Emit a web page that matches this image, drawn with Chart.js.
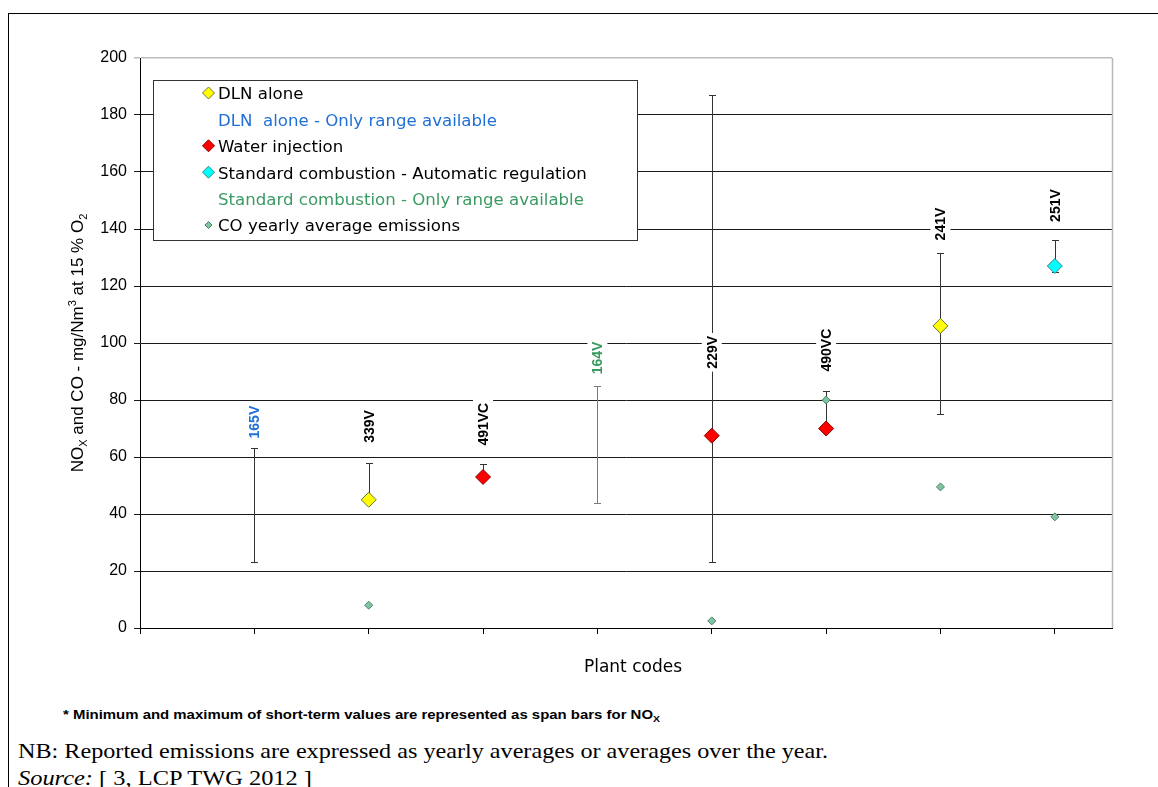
<!DOCTYPE html>
<html><head><meta charset="utf-8">
<script src="https://cdn.jsdelivr.net/npm/chart.js@4.4.1/dist/chart.umd.min.js"></script>
<style>
html,body{margin:0;padding:0;background:#fff;width:1158px;height:787px;overflow:hidden;}
#frame{position:absolute;left:8px;top:13px;width:1200px;height:800px;border-top:1px solid #000;border-left:1px solid #000;box-sizing:border-box;}
#c{position:absolute;left:0;top:0;}
.t{position:absolute;white-space:nowrap;transform-origin:0 0;color:#000;}
.sub{font-size:70%;position:relative;top:0.3em;}
#note{left:63px;top:707px;font:bold 13px "Liberation Sans Narrow","Liberation Sans",Arial,sans-serif;line-height:15px;}
#nb{left:18px;top:739px;font:21px "Liberation Serif","Times New Roman",serif;line-height:24px;}
#src{left:18px;top:766px;font:21px "Liberation Serif","Times New Roman",serif;line-height:24px;}
</style></head>
<body>
<div id="frame"></div>
<canvas id="c" width="1158" height="690"></canvas>
<div class="t" id="note">* Minimum and maximum of short-term values are represented as span bars for NO<span class="sub">X</span></div>
<div class="t" id="nb">NB: Reported emissions are expressed as yearly averages or averages over the year.</div>
<div class="t" id="src"><i>Source:</i> [ 3, LCP TWG 2012 ]</div>
<script>
// ---- data ----
const plantCodes = ['165V', '339V', '491VC', '164V', '229V', '490VC', '241V', '251V'];
const technique  = ['dlnRange', 'dln', 'water', 'stdRange', 'water', 'water', 'dln', 'stdAuto'];
const noxAverage = [null, 45, 53, null, 67.5, 70, 106, 127];
const noxMin     = [23, 45, 53, 44, 23, 70, 75, 125];
const noxMax     = [63, 58, 57.5, 85, 187, 83, 131.5, 136];
const coAverage  = [null, 8, null, null, 2.5, 80, 49.5, 39];
const labelAt    = [66.5, 65, 64, 89, 91, 90, 136, 142.5];
const yTicks     = [0, 20, 40, 60, 80, 100, 120, 140, 160, 180, 200];

const legendItems = [
  {text: 'DLN alone', marker: 'dln', color: '#000'},
  {text: 'DLN  alone - Only range available', marker: null, color: '#1f6fd6'},
  {text: 'Water injection', marker: 'water', color: '#000'},
  {text: 'Standard combustion - Automatic regulation', marker: 'stdAuto', color: '#000'},
  {text: 'Standard combustion - Only range available', marker: null, color: '#3a9a62'},
  {text: 'CO yearly average emissions', marker: 'co', color: '#000'}
];

const styles = {
  dln:     {fill: '#ffff00', stroke: '#6e6e40', r: 7.5, lr: 6},
  water:   {fill: '#ff0000', stroke: '#8a0000', r: 7.5, lr: 6},
  stdAuto: {fill: '#00ffff', stroke: '#3f8080', r: 7.5, lr: 6},
  co:      {fill: '#80c4a0', stroke: '#4a806a', r: 4, lr: 3.5}
};
const labelColor = {dlnRange: '#1f6fd6', stdRange: '#3a9a62'};
const FONT = '"Liberation Sans", Arial, sans-serif';
const FONT2 = '"DejaVu Sans", Verdana, sans-serif';

function pts(tech, arr) {
  const out = [];
  arr.forEach((v, i) => { if (v != null && (tech === null || technique[i] === tech)) out.push({x: i + 1, y: v}); });
  return out;
}
function ds(label, data, st) {
  return {label, data, pointStyle: 'rectRot', pointRadius: st.r, pointHoverRadius: st.r,
    backgroundColor: st.fill, borderColor: st.stroke, borderWidth: 1, showLine: false};
}

function diamond(ctx, x, y, r, fill, stroke) {
  ctx.beginPath();
  ctx.moveTo(x, y - r); ctx.lineTo(x + r, y); ctx.lineTo(x, y + r); ctx.lineTo(x - r, y); ctx.closePath();
  ctx.fillStyle = fill; ctx.fill();
  ctx.strokeStyle = stroke; ctx.lineWidth = 1; ctx.stroke();
}

const extras = {
  id: 'extras',
  beforeDatasetsDraw(chart) {
    const {ctx, chartArea: a, scales: {x, y}} = chart;
    ctx.save();
    // right plot border
    ctx.strokeStyle = '#b8b8b8'; ctx.lineWidth = 1.5;
    ctx.beginPath(); ctx.moveTo(Math.round(a.right) + 0.5, a.top); ctx.lineTo(Math.round(a.right) + 0.5, a.bottom); ctx.stroke();
    // span bars
    plantCodes.forEach((c, i) => {
      const px = Math.round(x.getPixelForValue(i + 1)) + 0.5;
      const y1 = Math.round(y.getPixelForValue(noxMax[i])) + 0.5;
      const y2 = Math.round(y.getPixelForValue(noxMin[i])) + 0.5;
      ctx.strokeStyle = technique[i] === 'stdRange' ? '#7a7a7a' : '#333';
      ctx.lineWidth = 1;
      ctx.beginPath();
      ctx.moveTo(px, y1); ctx.lineTo(px, y2);
      ctx.moveTo(px - 3.5, y1); ctx.lineTo(px + 3.5, y1);
      ctx.moveTo(px - 3.5, y2); ctx.lineTo(px + 3.5, y2);
      ctx.stroke();
    });
    // plant code labels
    ctx.font = 'bold 14px ' + FONT;
    plantCodes.forEach((c, i) => {
      const px = x.getPixelForValue(i + 1);
      const py = y.getPixelForValue(labelAt[i]);
      const w = ctx.measureText(c).width;
      ctx.save();
      ctx.translate(px, py);
      ctx.rotate(-Math.PI / 2);
      ctx.fillStyle = '#fff';
      ctx.fillRect(-3, -10, w + 6, 20);
      ctx.fillStyle = labelColor[technique[i]] || '#000';
      ctx.textAlign = 'left'; ctx.textBaseline = 'middle';
      ctx.fillText(c, 0, 1);
      ctx.restore();
    });
    ctx.restore();
  },
  afterDraw(chart) {
    const {ctx, chartArea: a} = chart;
    ctx.save();
    // legend box
    const lx = 153, ly = 80, lw = 484, lh = 160;
    ctx.fillStyle = '#fff'; ctx.fillRect(lx, ly, lw, lh);
    ctx.strokeStyle = '#333'; ctx.lineWidth = 1;
    ctx.strokeRect(lx + 0.5, ly + 0.5, lw, lh);
    ctx.font = '16.6px ' + FONT2; ctx.textBaseline = 'middle'; ctx.textAlign = 'left';
    legendItems.forEach((it, k) => {
      const cy = 93 + k * 26.4;
      if (it.marker) { const s = styles[it.marker]; diamond(ctx, 208.5, cy, s.lr, s.fill, s.stroke); }
      ctx.fillStyle = it.color;
      ctx.fillText(it.text, 218, cy + 2);
    });
    // x title
    ctx.font = '17px ' + FONT2;
    ctx.fillStyle = '#000'; ctx.textAlign = 'center';
    ctx.fillText('Plant codes', 633, 668);
    // y title with sub/superscripts
    const parts = [
      {t: 'NO', f: 17, dy: 0}, {t: 'X', f: 11, dy: 4},
      {t: ' and CO - mg/Nm', f: 17, dy: 0}, {t: '3', f: 11, dy: -7},
      {t: ' at 15 % O', f: 17, dy: 0}, {t: '2', f: 11, dy: 4}
    ];
    let total = 0;
    parts.forEach(p => { ctx.font = p.f + 'px ' + FONT; p.w = ctx.measureText(p.t).width; total += p.w; });
    ctx.translate(77, (a.top + a.bottom) / 2);
    ctx.rotate(-Math.PI / 2);
    ctx.textAlign = 'left'; ctx.textBaseline = 'alphabetic';
    let cx = -total / 2;
    parts.forEach(p => { ctx.font = p.f + 'px ' + FONT; ctx.fillText(p.t, cx, 6 + p.dy); cx += p.w; });
    ctx.restore();
  }
};

new Chart(document.getElementById('c'), {
  type: 'scatter',
  data: {
    datasets: [
      ds('DLN alone', pts('dln', noxAverage), styles.dln),
      ds('Water injection', pts('water', noxAverage), styles.water),
      ds('Standard combustion - Automatic regulation', pts('stdAuto', noxAverage), styles.stdAuto),
      ds('CO yearly average emissions', pts(null, coAverage), styles.co)
    ]
  },
  options: {
    responsive: false, animation: false, devicePixelRatio: 1,
    layout: {padding: {top: 58, right: 46, left: 0, bottom: 0}},
    plugins: {legend: {display: false}, tooltip: {enabled: false}},
    events: [],
    scales: {
      x: {
        type: 'linear', min: 0, max: plantCodes.length + 0.5,
        afterFit(s) { s.height = 62; },
        afterBuildTicks(s) { s.ticks = s.ticks.filter(t => Number.isInteger(t.value)); },
        ticks: {stepSize: 1, autoSkip: false, callback: () => '', font: {size: 1}},
        grid: {drawOnChartArea: false, drawTicks: true, tickLength: 6, color: '#000'},
        border: {color: '#000', width: 1}
      },
      y: {
        min: 0, max: 200,
        afterFit(s) { s.width = 140; },
        afterBuildTicks(s) { s.ticks = yTicks.map(v => ({value: v})); },
        ticks: {stepSize: 20, padding: 7, color: '#000', font: {family: FONT, size: 16}},
        grid: {
          color: c => c.tick && c.tick.value === 200 ? '#bcbcbc' : '#1a1a1a',
          lineWidth: c => c.tick && c.tick.value === 200 ? 1.5 : 1,
          tickLength: 6, drawTicks: true
        },
        border: {color: '#000', width: 1}
      }
    }
  },
  plugins: [extras]
});

// fit footnote widths to the reference
function fit(id, target) {
  const el = document.getElementById(id);
  const w = el.getBoundingClientRect().width;
  if (w > 0) el.style.transform = 'scaleX(' + (target / w) + ')';
}
fit('note', 597);
fit('nb', 810);
fit('src', 294);
</script>
</body></html>
